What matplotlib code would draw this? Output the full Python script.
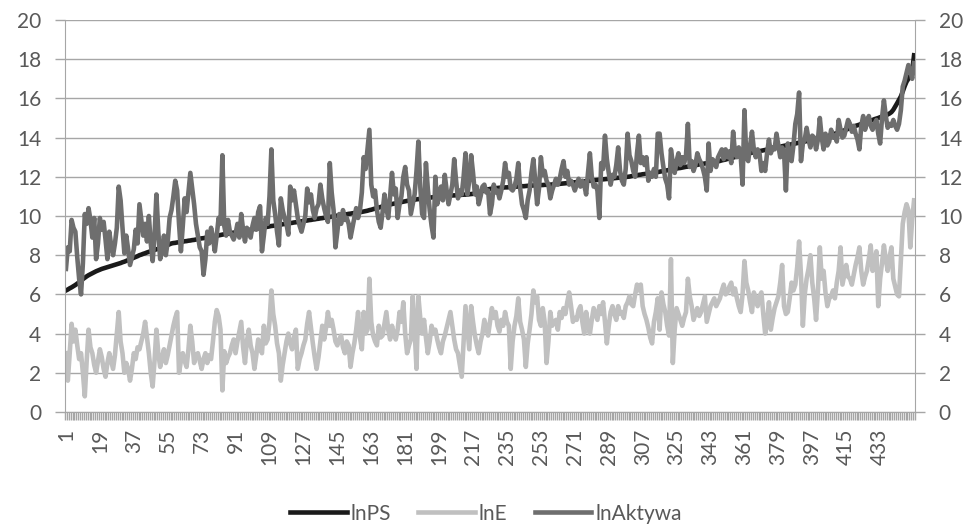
import matplotlib
matplotlib.use("Agg")
import matplotlib.pyplot as plt

# wartości (451 obserwacji, posortowane wg lnPS)
lnPS = [
    6.20, 6.25, 6.31, 6.36, 6.42, 6.48, 6.55, 6.62, 6.70, 6.78,
    6.85, 6.92, 6.98, 7.03, 7.08, 7.13, 7.18, 7.22, 7.26, 7.30,
    7.33, 7.36, 7.39, 7.42, 7.45, 7.48, 7.51, 7.54, 7.57, 7.60,
    7.64, 7.67, 7.71, 7.75, 7.79, 7.83, 7.87, 7.91, 7.95, 8.00,
    8.03, 8.07, 8.10, 8.14, 8.17, 8.21, 8.24, 8.27, 8.30, 8.33,
    8.36, 8.40, 8.44, 8.48, 8.52, 8.56, 8.60, 8.62, 8.63, 8.65,
    8.66, 8.68, 8.69, 8.71, 8.72, 8.74, 8.75, 8.77, 8.78, 8.80,
    8.82, 8.84, 8.86, 8.87, 8.89, 8.91, 8.93, 8.94, 8.96, 8.97,
    8.99, 9.01, 9.03, 9.05, 9.07, 9.09, 9.10, 9.12, 9.14, 9.15,
    9.17, 9.19, 9.20, 9.22, 9.24, 9.25, 9.27, 9.29, 9.30, 9.32,
    9.34, 9.35, 9.37, 9.39, 9.40, 9.42, 9.44, 9.45, 9.47, 9.49,
    9.50, 9.52, 9.53, 9.55, 9.56, 9.58, 9.59, 9.61, 9.62, 9.64,
    9.65, 9.67, 9.68, 9.70, 9.71, 9.73, 9.74, 9.76, 9.77, 9.79,
    9.80, 9.82, 9.83, 9.85, 9.86, 9.88, 9.89, 9.91, 9.92, 9.94,
    9.95, 9.97, 9.98, 10.00, 10.02, 10.03, 10.05, 10.06, 10.08, 10.09,
    10.11, 10.12, 10.14, 10.15, 10.17, 10.18, 10.20, 10.21, 10.23, 10.25,
    10.27, 10.30, 10.32, 10.35, 10.38, 10.40, 10.43, 10.46, 10.49, 10.52,
    10.55, 10.57, 10.59, 10.61, 10.63, 10.65, 10.67, 10.69, 10.71, 10.73,
    10.75, 10.77, 10.79, 10.80, 10.82, 10.83, 10.85, 10.86, 10.88, 10.89,
    10.90, 10.91, 10.92, 10.93, 10.95, 10.96, 10.97, 10.98, 10.99, 11.00,
    11.01, 11.02, 11.02, 11.03, 11.04, 11.05, 11.05, 11.06, 11.07, 11.07,
    11.08, 11.09, 11.09, 11.10, 11.11, 11.12, 11.13, 11.15, 11.18, 11.21,
    11.24, 11.27, 11.30, 11.33, 11.36, 11.38, 11.40, 11.41, 11.42, 11.43,
    11.44, 11.44, 11.45, 11.46, 11.46, 11.47, 11.48, 11.48, 11.49, 11.50,
    11.50, 11.51, 11.52, 11.52, 11.53, 11.54, 11.54, 11.55, 11.56, 11.56,
    11.57, 11.57, 11.58, 11.58, 11.59, 11.59, 11.60, 11.60, 11.61, 11.61,
    11.62, 11.63, 11.64, 11.65, 11.66, 11.67, 11.68, 11.69, 11.70, 11.71,
    11.72, 11.73, 11.74, 11.75, 11.76, 11.77, 11.78, 11.79, 11.80, 11.81,
    11.82, 11.83, 11.84, 11.85, 11.86, 11.87, 11.88, 11.89, 11.90, 11.91,
    11.92, 11.93, 11.94, 11.95, 11.96, 11.97, 11.98, 11.99, 12.00, 12.01,
    12.03, 12.05, 12.07, 12.08, 12.10, 12.11, 12.13, 12.14, 12.16, 12.17,
    12.18, 12.19, 12.20, 12.22, 12.24, 12.26, 12.28, 12.30, 12.31, 12.33,
    12.35, 12.37, 12.38, 12.40, 12.42, 12.44, 12.45, 12.47, 12.49, 12.51,
    12.52, 12.54, 12.56, 12.58, 12.59, 12.61, 12.63, 12.65, 12.66, 12.68,
    12.69, 12.71, 12.72, 12.74, 12.75, 12.77, 12.79, 12.81, 12.84, 12.86,
    12.88, 12.91, 12.93, 12.96, 12.98, 13.01, 13.03, 13.06, 13.08, 13.11,
    13.13, 13.16, 13.18, 13.21, 13.23, 13.25, 13.27, 13.29, 13.31, 13.33,
    13.35, 13.37, 13.39, 13.41, 13.43, 13.45, 13.47, 13.49, 13.51, 13.53,
    13.56, 13.58, 13.60, 13.62, 13.64, 13.66, 13.68, 13.70, 13.72, 13.74,
    13.76, 13.78, 13.80, 13.82, 13.84, 13.86, 13.88, 13.90, 13.93, 13.95,
    13.97, 13.99, 14.02, 14.04, 14.07, 14.10, 14.13, 14.16, 14.20, 14.23,
    14.27, 14.30, 14.34, 14.37, 14.41, 14.44, 14.48, 14.51, 14.55, 14.60,
    14.63, 14.66, 14.70, 14.73, 14.76, 14.80, 14.83, 14.87, 14.90, 14.94,
    14.97, 15.00, 15.04, 15.07, 15.11, 15.14, 15.18, 15.23, 15.30, 15.42,
    15.58, 15.75, 15.92, 16.10, 16.35, 16.62, 16.85, 17.00, 17.15, 17.40,
    18.20,
]

lnE = [
    # 1-45
    3.0, 1.6, 3.0, 4.5, 3.6, 4.2, 3.4, 2.7, 3.0, 2.0,
    0.8, 2.6, 4.2, 3.3, 3.0, 2.4, 2.0, 2.6, 3.2, 2.8,
    2.2, 1.8, 2.5, 3.0, 2.6, 2.2, 2.9, 4.0, 5.1, 3.6,
    3.0, 2.0, 2.5, 2.2, 1.6, 2.2, 3.0, 2.7, 3.3, 3.2,
    3.6, 4.0, 4.6, 3.8, 3.0,
    # 46-90
    2.0, 1.3, 2.6, 4.2, 3.0, 2.3, 2.8, 3.2, 2.5, 2.9,
    3.4, 3.9, 4.4, 4.8, 5.1, 2.0, 2.6, 3.0, 2.6, 2.3,
    3.2, 4.4, 3.6, 2.5, 2.9, 3.0, 2.6, 2.2, 2.7, 3.0,
    2.5, 2.9, 2.7, 3.6, 4.6, 5.2, 4.9, 4.2, 1.1, 3.1,
    2.5, 2.8, 3.0, 3.4, 3.7,
    # 91-135
    3.0, 3.6, 4.1, 4.6, 3.3, 2.5, 3.6, 4.2, 3.4, 3.0,
    2.2, 2.9, 3.7, 3.3, 3.0, 4.4, 3.5, 3.7, 4.6, 6.2,
    5.0, 4.4, 3.5, 3.0, 1.6, 2.4, 3.0, 3.6, 4.0, 3.5,
    3.2, 3.8, 4.2, 2.2, 2.7, 3.0, 3.4, 3.7, 4.5, 5.1,
    4.3, 3.5, 2.8, 2.2, 2.8,
    # 136-180
    3.6, 4.4, 3.7, 4.3, 5.1, 4.4, 4.7, 4.2, 3.6, 3.4,
    3.7, 3.9, 3.3, 3.0, 3.6, 3.4, 2.3, 3.0, 3.5, 4.2,
    5.1, 3.8, 3.2, 5.1, 4.0, 4.2, 6.8, 4.6, 3.9, 3.6,
    3.4, 4.4, 3.8, 3.9, 4.5, 5.1, 4.2, 3.7, 4.4, 4.0,
    3.7, 4.2, 5.1, 4.6, 5.6,
    # 181-225
    4.0, 3.0, 3.4, 3.7, 5.9, 4.2, 2.2, 5.9, 4.8, 4.0,
    4.7, 3.8, 3.0, 3.6, 4.4, 4.0, 4.2, 3.7, 3.3, 3.0,
    3.6, 3.9, 4.3, 4.7, 5.1, 4.4, 3.7, 3.2, 3.0, 2.4,
    1.8, 3.6, 5.4, 4.3, 3.2, 5.4, 4.6, 3.9, 3.4, 3.0,
    3.6, 4.0, 4.7, 4.3, 3.9,
    # 226-270
    4.6, 5.3, 4.8, 5.1, 4.4, 4.1, 4.7, 4.4, 5.1, 4.6,
    4.4, 2.2, 3.6, 4.4, 4.9, 5.8, 4.6, 4.2, 3.7, 2.3,
    3.5, 4.2, 5.0, 6.2, 5.6, 5.9, 4.7, 4.4, 5.3, 4.6,
    2.5, 3.6, 5.1, 4.4, 4.6, 4.7, 4.2, 5.1, 4.8, 5.3,
    5.0, 5.6, 6.1, 5.4, 4.6,
    # 271-315
    4.8, 4.7, 5.2, 5.4, 4.6, 4.0, 5.1, 4.5, 4.0, 4.7,
    5.3, 5.0, 4.7, 5.4, 5.0, 5.6, 4.6, 3.5, 4.4, 5.1,
    5.4, 5.0, 4.7, 5.4, 5.0, 5.1, 4.8, 5.4, 5.6, 5.9,
    5.5, 5.4, 6.0, 6.5, 6.2, 6.5, 5.4, 5.0, 4.7, 4.3,
    3.8, 3.5, 4.6, 5.1, 5.8,
    # 316-360
    4.2, 6.1, 5.5, 5.1, 4.4, 3.9, 7.8, 2.5, 4.2, 5.3,
    5.0, 4.7, 4.4, 4.8, 5.1, 6.8, 5.9, 5.4, 4.7, 5.0,
    5.3, 4.9, 5.1, 5.5, 5.9, 4.6, 5.0, 5.4, 5.6, 5.8,
    5.4, 5.6, 5.8, 6.2, 6.5, 6.0, 6.1, 6.4, 6.6, 6.0,
    6.3, 5.8, 5.4, 5.1, 6.0,
    # 361-405
    7.7, 6.6, 6.2, 5.6, 5.1, 6.1, 5.8, 5.4, 5.9, 6.1,
    5.0, 4.0, 4.6, 5.6, 4.2, 4.8, 5.3, 5.6, 5.9, 6.6,
    7.5, 5.4, 5.0, 5.1, 5.8, 6.6, 6.2, 6.5, 7.4, 8.7,
    7.0, 4.4, 6.0, 6.8, 7.3, 8.0, 6.6, 5.8, 4.7, 6.2,
    8.4, 6.8, 7.2, 6.1, 5.4,
    # 406-451
    5.8, 5.9, 6.2, 5.8, 6.6, 7.2, 8.4, 6.5, 7.0, 7.5,
    6.9, 6.8, 6.5, 7.0, 7.5, 7.9, 8.4, 7.2, 6.5, 6.9,
    7.2, 7.8, 8.5, 7.2, 7.6, 8.2, 5.4, 6.8, 7.6, 8.5,
    7.8, 7.2, 7.9, 8.4, 6.8, 6.4, 6.0, 5.9, 7.8, 9.6,
    10.2, 10.6, 10.3, 8.4, 9.8, 10.8,
]

lnAktywa = [
    # 1-45
    7.3, 8.4, 8.2, 9.8, 9.4, 9.2, 7.9, 6.8, 6.0, 7.6,
    10.1, 9.6, 10.4, 9.8, 8.9, 9.9, 7.8, 8.6, 9.9, 9.3,
    9.7, 8.8, 7.8, 9.2, 8.5, 8.0, 8.6, 9.4, 11.5, 10.8,
    9.4, 8.1, 9.0, 8.3, 7.5, 7.9, 8.3, 9.3, 8.6, 10.6,
    9.8, 9.0, 9.6, 8.7, 10.0,
    # 46-90
    8.6, 7.7, 9.0, 11.1, 9.2, 7.8, 8.2, 9.0, 8.0, 8.7,
    9.9, 10.3, 11.0, 11.8, 11.3, 9.6, 8.2, 9.5, 10.9, 10.2,
    11.2, 12.2, 11.4, 10.6, 9.6, 9.0, 8.4, 8.2, 7.0, 7.8,
    9.2, 8.6, 9.4, 8.9, 8.2, 9.0, 9.9, 9.6, 13.1, 9.5,
    9.0, 9.8, 9.2, 9.0, 8.8,
    # 91-135
    9.1, 9.6, 8.9, 10.1, 9.3, 8.7, 9.4, 9.2, 8.9, 9.5,
    9.9, 9.3, 10.2, 10.5, 8.2, 9.0, 9.9, 9.6, 11.0, 13.4,
    10.8, 10.1, 9.2, 8.5, 10.9, 10.3, 9.9, 9.6, 9.05, 11.5,
    10.8, 11.3, 10.6, 9.9, 9.5, 9.2, 9.6, 10.0, 11.4, 10.7,
    11.1, 10.3, 9.9, 10.4, 10.6,
    # 136-180
    11.6, 10.9, 10.4, 10.0, 9.7, 12.7, 11.2, 10.3, 8.4, 9.2,
    10.1, 9.6, 10.3, 9.8, 9.9, 9.6, 8.9, 9.4, 9.9, 10.4,
    9.9, 10.3, 11.2, 13.0, 12.4, 13.4, 14.4, 11.6, 11.0, 11.3,
    10.3, 9.7, 9.4, 10.2, 11.1, 10.4, 9.9, 11.0, 12.2, 11.1,
    11.4, 9.9, 10.6, 11.0, 12.0,
    # 181-225
    12.5, 11.6, 11.3, 10.1, 10.6, 11.1, 12.3, 13.8, 11.5, 10.1,
    9.9, 12.7, 11.4, 10.3, 9.5, 8.9, 12.0, 10.6, 11.0, 11.5,
    10.8, 12.1, 11.3, 10.6, 11.1, 11.6, 12.9, 11.8, 10.9, 11.3,
    11.1, 12.0, 13.2, 11.1, 11.8, 13.1, 12.2, 11.1, 11.5, 10.6,
    11.0, 11.5, 11.6, 11.2, 11.3,
    # 226-270
    10.1, 10.6, 11.6, 11.2, 11.3, 10.9, 11.3, 11.8, 12.7, 12.0,
    12.2, 11.4, 11.3, 11.5, 11.9, 12.7, 11.4, 10.6, 10.3, 9.9,
    10.8, 11.3, 12.2, 12.9, 11.8, 10.6, 11.4, 13.0, 12.1, 12.3,
    11.8, 11.6, 10.9, 11.3, 11.6, 11.9, 11.6, 11.9, 12.4, 12.8,
    12.0, 12.3, 11.6, 11.8, 11.6,
    # 271-315
    11.3, 11.6, 11.9, 11.5, 11.8, 11.6, 11.1, 12.2, 13.2, 12.0,
    11.5, 11.6, 11.3, 9.9, 12.7, 12.4, 14.1, 12.9, 12.2, 11.6,
    12.1, 12.0, 12.6, 13.5, 12.3, 11.8, 11.6, 12.4, 14.2, 13.1,
    12.8, 12.3, 12.0, 13.2, 14.1, 12.7, 13.0, 12.6, 13.0, 11.8,
    12.2, 12.0, 12.4, 12.0, 14.2,
    # 316-355
    14.2, 13.2, 12.5, 11.9, 11.6, 10.9, 13.4, 12.7, 12.2, 12.8,
    13.2, 12.6, 13.0, 12.7, 13.1, 14.7, 12.5, 12.8, 12.3, 12.6,
    13.2, 12.9, 12.7, 12.4, 12.0, 11.3, 13.7, 12.3, 12.9, 12.8,
    12.5, 13.0, 13.2, 13.4, 12.9, 13.4, 13.0, 13.3, 12.7, 14.3,
    # 356-405
    13.2, 13.0, 13.5, 13.1, 11.6, 15.4, 13.0, 12.8, 13.6, 14.3,
    13.4, 13.0, 13.4, 13.2, 12.3, 12.7, 12.3, 13.2, 13.9, 13.2,
    13.5, 13.4, 14.2, 13.6, 13.0, 13.5, 13.3, 11.3, 13.7, 13.2,
    12.8, 13.6, 14.7, 15.2, 16.3, 12.8, 13.7, 13.9, 14.5, 13.9,
    13.5, 14.1, 14.0, 13.4, 13.9, 15.0, 14.0, 13.4, 14.2, 13.6,
    # 406-451
    13.8, 14.4, 14.0, 14.1, 13.8, 14.9, 14.4, 14.0, 14.1, 14.5,
    14.9, 14.7, 14.3, 14.6, 14.2, 13.9, 13.4, 14.6, 15.1, 14.4,
    14.8, 15.1, 14.6, 14.4, 14.7, 14.9, 14.2, 13.7, 15.0, 15.9,
    15.1, 14.5, 14.7, 14.6, 14.9, 14.6, 14.4, 14.7, 15.4, 16.6,
    16.9, 17.3, 17.7, 17.4, 17.0, 17.8,
]

# etykiety osi X co 18 obserwacji (ostatnia 433)
etykiety = [1, 19, 37, 55, 73, 91, 109, 127, 145, 163, 181, 199, 217,
            235, 253, 271, 289, 307, 325, 343, 361, 379, 397, 415, 433]

assert len(lnPS) == len(lnE) == len(lnAktywa) == 451

n = len(lnPS)
x = list(range(1, n + 1))

szary = '#595959'
siatka = '#a6a6a6'

plt.rcParams['font.family'] = ['Lato', 'DejaVu Sans']
fig = plt.figure(figsize=(9.72, 5.24), dpi=100)
ax = fig.add_axes([65 / 972, 1 - 412 / 524, 850 / 972, 392 / 524])

ax.plot(x, lnPS, color='#1a1a1a', lw=3.3, label='lnPS')
ax.plot(x, lnE, color='#c0c0c0', lw=3.3, label='lnE')
ax.plot(x, lnAktywa, color='#6e6e6e', lw=3.3, label='lnAktywa')

ax.set_xlim(0.5, n + 0.5)
ax.set_ylim(0, 20)
ax.set_yticks(range(0, 21, 2))
ax.grid(axis='y', color=siatka, lw=1)
ax.set_axisbelow(True)

ax.set_xticks(etykiety)
ax.set_xticklabels([str(e) for e in etykiety], rotation=90)
ax.set_xticks([i + 0.5 for i in range(0, n + 1)], minor=True)
ax.tick_params(axis='x', which='major', length=0, pad=12, labelsize=15, labelcolor=szary)
ax.tick_params(axis='x', which='minor', length=6, width=1, color=siatka)
ax.tick_params(axis='y', length=7, width=1, color=siatka, pad=10,
               labelsize=15, labelcolor=szary, right=True, labelright=True)

for s in ['left', 'right', 'bottom']:
    ax.spines[s].set_color(siatka)
ax.spines['top'].set_visible(False)

leg = fig.legend(loc='lower center', bbox_to_anchor=(0.5, -0.035), ncol=3, frameon=False,
                 fontsize=15, handlelength=2.7, handletextpad=0.2, columnspacing=1.3)
for t in leg.get_texts():
    t.set_color(szary)

plt.savefig('out.png', dpi=100)
plt.close()
